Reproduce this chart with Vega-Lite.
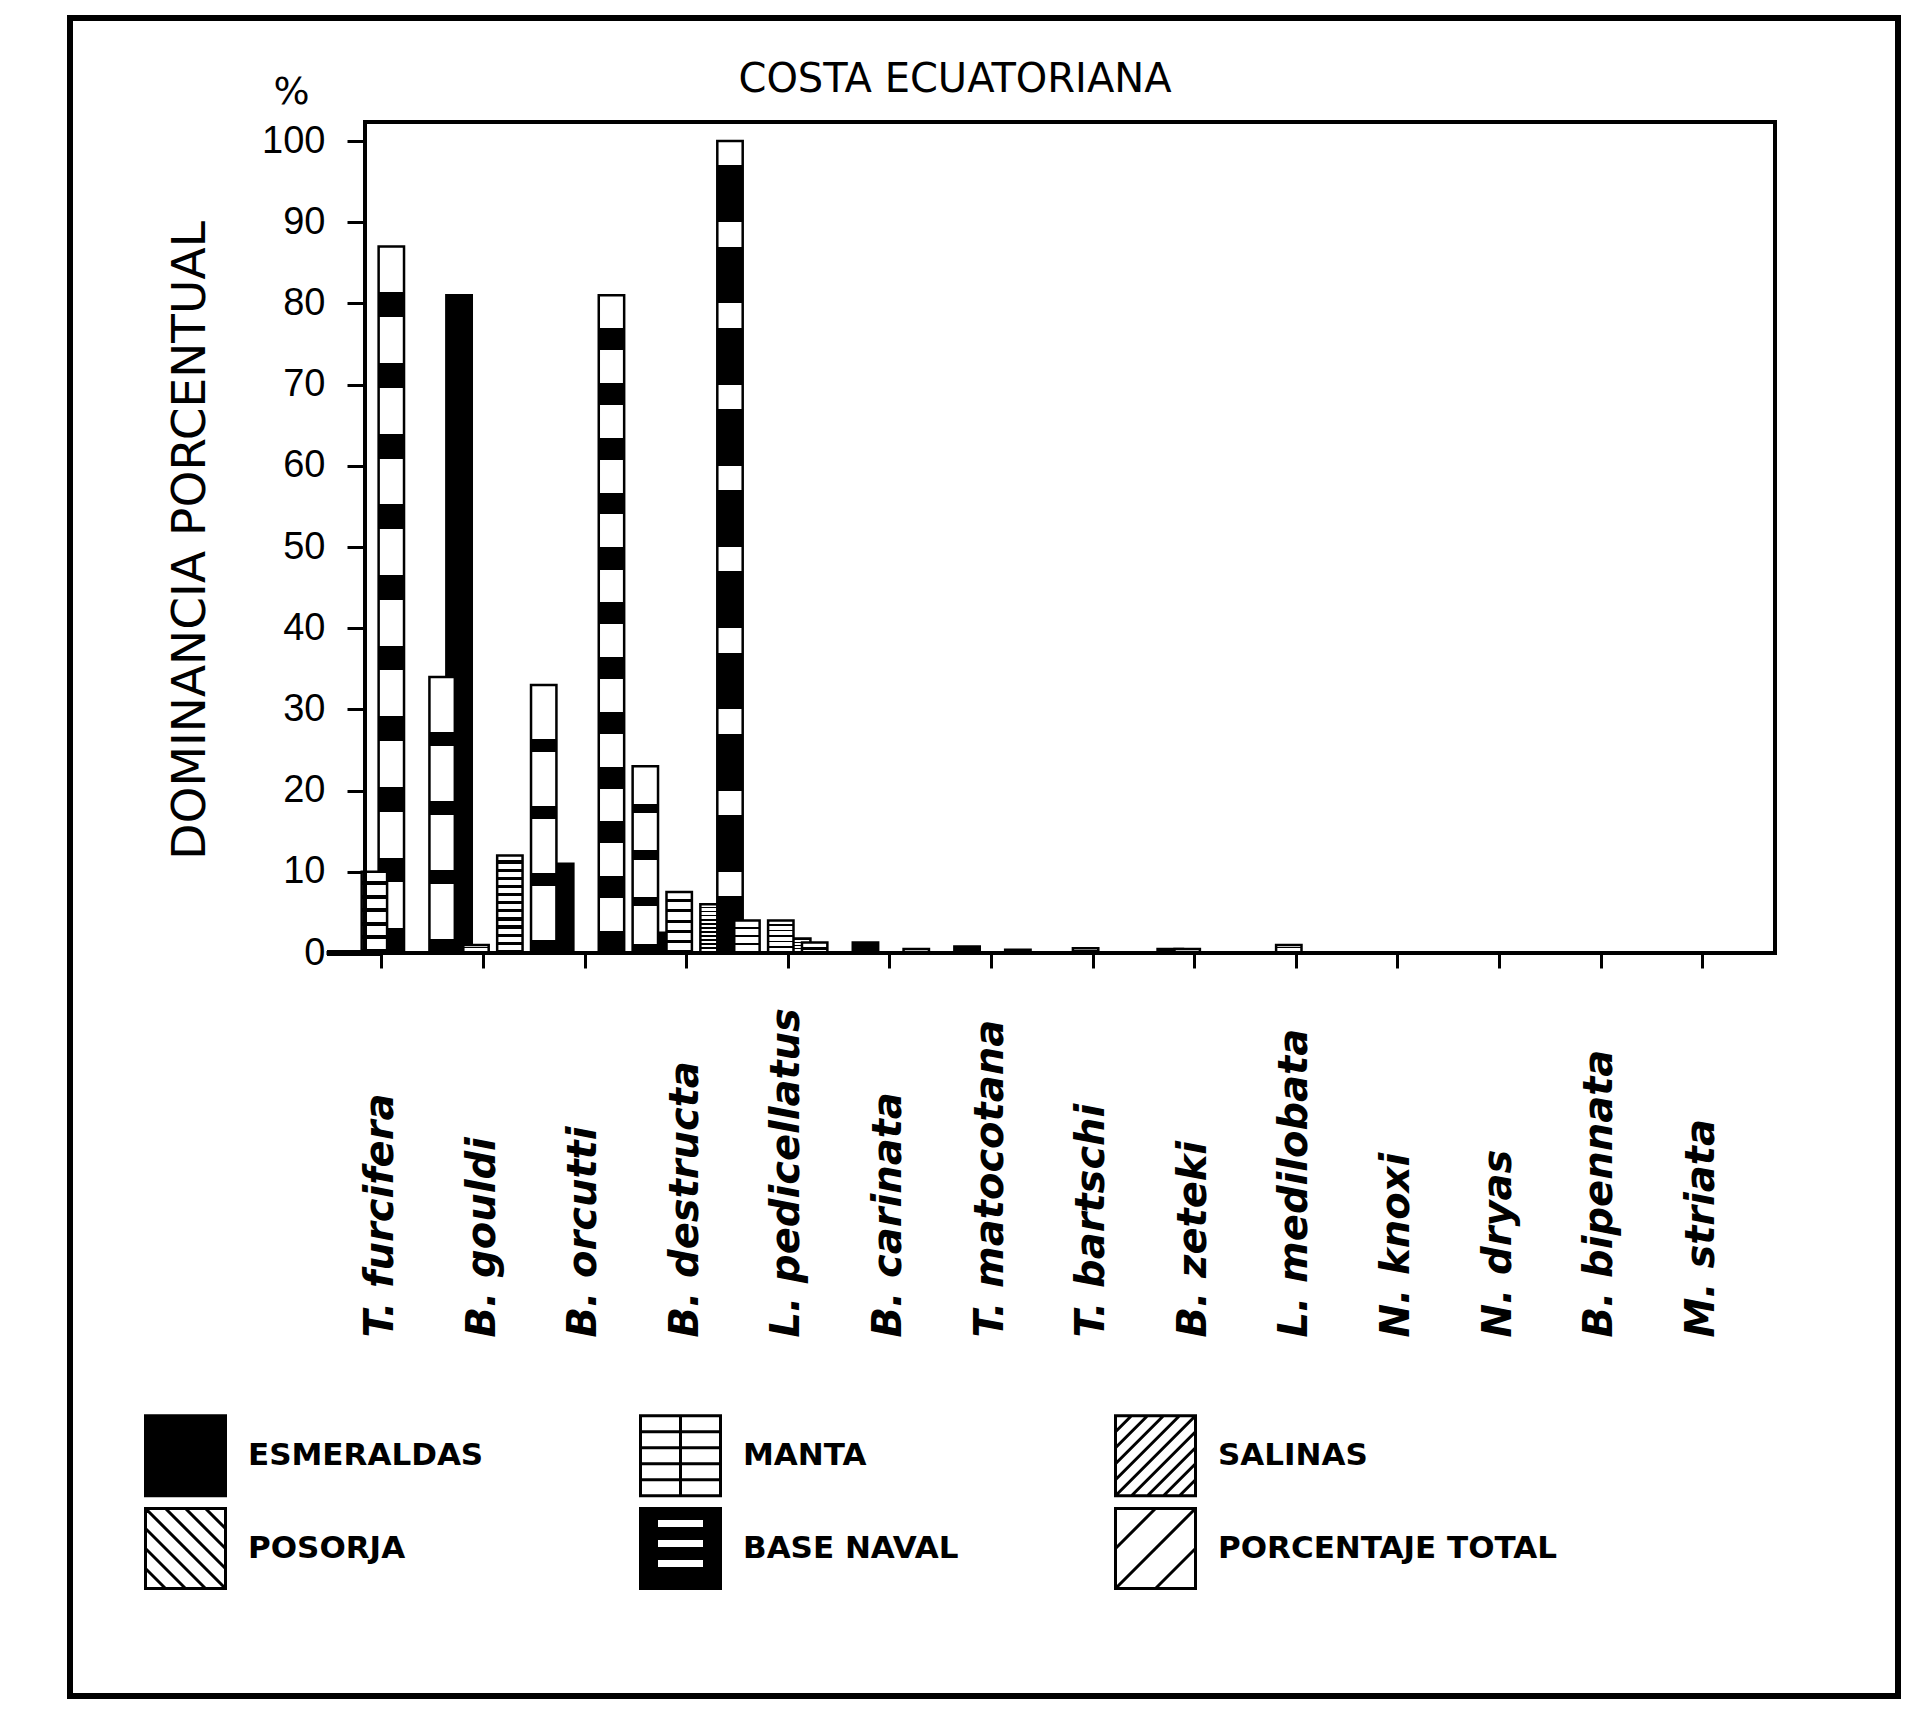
{
  "$schema": "https://vega.github.io/schema/vega-lite/v6.json",
  "width": 1828,
  "height": 1678,
  "autosize": {"type": "none"},
  "padding": {"left": 70, "top": 18, "right": 22, "bottom": 16},
  "background": "white",
  "title": {"text": "COSTA ECUATORIANA", "frame": "group", "anchor": "middle", "dx": -29, "offset": -102, "baseline": "middle", "font": "DejaVu Sans", "fontSize": 40, "fontWeight": "normal", "color": "black"},
  "config": {"view": {"stroke": "black", "strokeWidth": 6}, "font": "DejaVu Sans"},
  "data": {"values": [
    {"species": "T. furcifera", "series": "POSORJA", "value": 10},
    {"species": "T. furcifera", "series": "MANTA", "value": 87},
    {"species": "T. furcifera", "series": "PORCENTAJE TOTAL", "value": 34},
    {"species": "B. gouldi", "series": "ESMERALDAS", "value": 81},
    {"species": "B. gouldi", "series": "POSORJA", "value": 1},
    {"species": "B. gouldi", "series": "SALINAS", "value": 12},
    {"species": "B. gouldi", "series": "PORCENTAJE TOTAL", "value": 33},
    {"species": "B. orcutti", "series": "ESMERALDAS", "value": 11},
    {"species": "B. orcutti", "series": "SALINAS", "value": 81},
    {"species": "B. orcutti", "series": "PORCENTAJE TOTAL", "value": 23},
    {"species": "B. destructa", "series": "ESMERALDAS", "value": 2.5},
    {"species": "B. destructa", "series": "POSORJA", "value": 7.5},
    {"species": "B. destructa", "series": "SALINAS", "value": 6},
    {"species": "B. destructa", "series": "BASE NAVAL", "value": 100},
    {"species": "B. destructa", "series": "PORCENTAJE TOTAL", "value": 4},
    {"species": "L. pedicellatus", "series": "POSORJA", "value": 4},
    {"species": "L. pedicellatus", "series": "MANTA", "value": 1.8},
    {"species": "L. pedicellatus", "series": "SALINAS", "value": 1.3},
    {"species": "B. carinata", "series": "ESMERALDAS", "value": 1.3},
    {"species": "B. carinata", "series": "SALINAS", "value": 0.5},
    {"species": "T. matocotana", "series": "ESMERALDAS", "value": 0.8},
    {"species": "T. matocotana", "series": "SALINAS", "value": 0.4},
    {"species": "T. bartschi", "series": "POSORJA", "value": 0.6},
    {"species": "B. zeteki", "series": "ESMERALDAS", "value": 0.5},
    {"species": "B. zeteki", "series": "POSORJA", "value": 0.5},
    {"species": "L. medilobata", "series": "POSORJA", "value": 1}
  ]},
  "layer": [
    {
      "encoding": {
        "x": {
          "field": "species", "type": "nominal",
          "scale": {"domain": ["pad1", "pad2", "T. furcifera", "B. gouldi", "B. orcutti", "B. destructa", "L. pedicellatus", "B. carinata", "T. matocotana", "T. bartschi", "B. zeteki", "L. medilobata", "N. knoxi", "N. dryas", "B. bipennata", "M. striata", "pad3"], "paddingInner": 0, "paddingOuter": 0.496, "align": 0.962},
          "axis": {"title": null, "values": ["T. furcifera", "B. gouldi", "B. orcutti", "B. destructa", "L. pedicellatus", "B. carinata", "T. matocotana", "T. bartschi", "B. zeteki", "L. medilobata", "N. knoxi", "N. dryas", "B. bipennata", "M. striata"], "offset": -743, "domain": false, "bandPosition": 0.115, "ticks": true, "tickSize": 15, "tickWidth": 3, "tickColor": "black", "labelAngle": -90, "labelAlign": "left", "labelBaseline": "middle", "labelPadding": 369, "labelOffset": -40, "labelFont": "DejaVu Sans", "labelFontStyle": "italic", "labelFontWeight": "bold", "labelFontSize": 40, "labelColor": "black", "labelOverlap": false, "labelBound": false, "labelFlush": false, "labelLimit": 0}
        },
        "xOffset": {"field": "series", "type": "nominal", "scale": {"domain": ["ESMERALDAS", "POSORJA", "MANTA", "SALINAS", "BASE NAVAL", "PORCENTAJE TOTAL"], "paddingInner": 0, "paddingOuter": 0}},
        "y": {
          "field": "value", "type": "quantitative",
          "scale": {"domain": [-91.5, 115.15], "nice": false},
          "axis": {"orient": "left", "offset": -295, "domain": false, "grid": false, "values": [0, 10, 20, 30, 40, 50, 60, 70, 80, 90, 100], "tickSize": 18, "tickWidth": 3, "tickColor": "black", "labelPadding": 22, "labelFont": "Liberation Sans", "labelFontSize": 38, "labelColor": "black", "labelBaseline": "middle", "labelOverlap": false, "title": "DOMINANCIA PORCENTUAL", "titleFont": "DejaVu Sans", "titleFontSize": 47, "titleFontWeight": "normal", "titleColor": "black", "titleAngle": -90, "titleX": -175, "titleY": 522, "titleAlign": "center", "titleBaseline": "middle"}
        }
      },
      "layer": [
        {
          "transform": [{"filter": "datum.series === 'ESMERALDAS'"}],
          "mark": {"type": "bar", "width": {"band": 1.5}, "fill": "black", "stroke": "black", "strokeWidth": 2.5},
          "encoding": {"y2": {"datum": 0}}
        },
        {
          "transform": [{"filter": "datum.series === 'MANTA'"}],
          "mark": {"type": "bar", "width": {"band": 1.5}, "stroke": "black", "strokeWidth": 2.5, "fill": {"gradient": "linear", "x1": 0, "y1": 0, "x2": 0, "y2": 1, "stops": [
            {"offset": 0, "color": "white"}, {"offset": 0.065, "color": "white"}, {"offset": 0.065, "color": "black"}, {"offset": 0.1, "color": "black"},
            {"offset": 0.1, "color": "white"}, {"offset": 0.165, "color": "white"}, {"offset": 0.165, "color": "black"}, {"offset": 0.2, "color": "black"},
            {"offset": 0.2, "color": "white"}, {"offset": 0.265, "color": "white"}, {"offset": 0.265, "color": "black"}, {"offset": 0.3, "color": "black"},
            {"offset": 0.3, "color": "white"}, {"offset": 0.365, "color": "white"}, {"offset": 0.365, "color": "black"}, {"offset": 0.4, "color": "black"},
            {"offset": 0.4, "color": "white"}, {"offset": 0.465, "color": "white"}, {"offset": 0.465, "color": "black"}, {"offset": 0.5, "color": "black"},
            {"offset": 0.5, "color": "white"}, {"offset": 0.565, "color": "white"}, {"offset": 0.565, "color": "black"}, {"offset": 0.6, "color": "black"},
            {"offset": 0.6, "color": "white"}, {"offset": 0.665, "color": "white"}, {"offset": 0.665, "color": "black"}, {"offset": 0.7, "color": "black"},
            {"offset": 0.7, "color": "white"}, {"offset": 0.765, "color": "white"}, {"offset": 0.765, "color": "black"}, {"offset": 0.8, "color": "black"},
            {"offset": 0.8, "color": "white"}, {"offset": 0.865, "color": "white"}, {"offset": 0.865, "color": "black"}, {"offset": 0.9, "color": "black"},
            {"offset": 0.9, "color": "white"}, {"offset": 0.965, "color": "white"}, {"offset": 0.965, "color": "black"}, {"offset": 1, "color": "black"}
          ]}},
          "encoding": {"y2": {"datum": 0}}
        },
        {
          "transform": [{"filter": "datum.series === 'SALINAS'"}],
          "mark": {"type": "bar", "width": {"band": 1.5}, "stroke": "black", "strokeWidth": 2.5, "fill": {"gradient": "linear", "x1": 0, "y1": 0, "x2": 0, "y2": 1, "stops": [
            {"offset": 0, "color": "white"}, {"offset": 0.05, "color": "white"}, {"offset": 0.05, "color": "black"}, {"offset": 0.083, "color": "black"},
            {"offset": 0.083, "color": "white"}, {"offset": 0.133, "color": "white"}, {"offset": 0.133, "color": "black"}, {"offset": 0.167, "color": "black"},
            {"offset": 0.167, "color": "white"}, {"offset": 0.217, "color": "white"}, {"offset": 0.217, "color": "black"}, {"offset": 0.25, "color": "black"},
            {"offset": 0.25, "color": "white"}, {"offset": 0.3, "color": "white"}, {"offset": 0.3, "color": "black"}, {"offset": 0.333, "color": "black"},
            {"offset": 0.333, "color": "white"}, {"offset": 0.383, "color": "white"}, {"offset": 0.383, "color": "black"}, {"offset": 0.417, "color": "black"},
            {"offset": 0.417, "color": "white"}, {"offset": 0.467, "color": "white"}, {"offset": 0.467, "color": "black"}, {"offset": 0.5, "color": "black"},
            {"offset": 0.5, "color": "white"}, {"offset": 0.55, "color": "white"}, {"offset": 0.55, "color": "black"}, {"offset": 0.583, "color": "black"},
            {"offset": 0.583, "color": "white"}, {"offset": 0.633, "color": "white"}, {"offset": 0.633, "color": "black"}, {"offset": 0.667, "color": "black"},
            {"offset": 0.667, "color": "white"}, {"offset": 0.717, "color": "white"}, {"offset": 0.717, "color": "black"}, {"offset": 0.75, "color": "black"},
            {"offset": 0.75, "color": "white"}, {"offset": 0.8, "color": "white"}, {"offset": 0.8, "color": "black"}, {"offset": 0.833, "color": "black"},
            {"offset": 0.833, "color": "white"}, {"offset": 0.883, "color": "white"}, {"offset": 0.883, "color": "black"}, {"offset": 0.917, "color": "black"},
            {"offset": 0.917, "color": "white"}, {"offset": 0.967, "color": "white"}, {"offset": 0.967, "color": "black"}, {"offset": 1, "color": "black"}
          ]}},
          "encoding": {"y2": {"datum": 0}}
        },
        {
          "transform": [{"filter": "datum.series === 'POSORJA'"}],
          "mark": {"type": "bar", "width": {"band": 1.5}, "stroke": "black", "strokeWidth": 2.5, "fill": {"gradient": "linear", "x1": 0, "y1": 0, "x2": 0, "y2": 1, "stops": [
            {"offset": 0, "color": "white"}, {"offset": 0.117, "color": "white"}, {"offset": 0.117, "color": "black"}, {"offset": 0.167, "color": "black"},
            {"offset": 0.167, "color": "white"}, {"offset": 0.283, "color": "white"}, {"offset": 0.283, "color": "black"}, {"offset": 0.333, "color": "black"},
            {"offset": 0.333, "color": "white"}, {"offset": 0.45, "color": "white"}, {"offset": 0.45, "color": "black"}, {"offset": 0.5, "color": "black"},
            {"offset": 0.5, "color": "white"}, {"offset": 0.617, "color": "white"}, {"offset": 0.617, "color": "black"}, {"offset": 0.667, "color": "black"},
            {"offset": 0.667, "color": "white"}, {"offset": 0.783, "color": "white"}, {"offset": 0.783, "color": "black"}, {"offset": 0.833, "color": "black"},
            {"offset": 0.833, "color": "white"}, {"offset": 0.95, "color": "white"}, {"offset": 0.95, "color": "black"}, {"offset": 1, "color": "black"}
          ]}},
          "encoding": {"y2": {"datum": 0}}
        },
        {
          "transform": [{"filter": "datum.series === 'BASE NAVAL'"}],
          "mark": {"type": "bar", "width": {"band": 1.5}, "stroke": "black", "strokeWidth": 2.5, "fill": {"gradient": "linear", "x1": 0, "y1": 0, "x2": 0, "y2": 1, "stops": [
            {"offset": 0, "color": "white"}, {"offset": 0.03, "color": "white"}, {"offset": 0.03, "color": "black"}, {"offset": 0.1, "color": "black"},
            {"offset": 0.1, "color": "white"}, {"offset": 0.13, "color": "white"}, {"offset": 0.13, "color": "black"}, {"offset": 0.2, "color": "black"},
            {"offset": 0.2, "color": "white"}, {"offset": 0.23, "color": "white"}, {"offset": 0.23, "color": "black"}, {"offset": 0.3, "color": "black"},
            {"offset": 0.3, "color": "white"}, {"offset": 0.33, "color": "white"}, {"offset": 0.33, "color": "black"}, {"offset": 0.4, "color": "black"},
            {"offset": 0.4, "color": "white"}, {"offset": 0.43, "color": "white"}, {"offset": 0.43, "color": "black"}, {"offset": 0.5, "color": "black"},
            {"offset": 0.5, "color": "white"}, {"offset": 0.53, "color": "white"}, {"offset": 0.53, "color": "black"}, {"offset": 0.6, "color": "black"},
            {"offset": 0.6, "color": "white"}, {"offset": 0.63, "color": "white"}, {"offset": 0.63, "color": "black"}, {"offset": 0.7, "color": "black"},
            {"offset": 0.7, "color": "white"}, {"offset": 0.73, "color": "white"}, {"offset": 0.73, "color": "black"}, {"offset": 0.8, "color": "black"},
            {"offset": 0.8, "color": "white"}, {"offset": 0.83, "color": "white"}, {"offset": 0.83, "color": "black"}, {"offset": 0.9, "color": "black"},
            {"offset": 0.9, "color": "white"}, {"offset": 0.93, "color": "white"}, {"offset": 0.93, "color": "black"}, {"offset": 1, "color": "black"}
          ]}},
          "encoding": {"y2": {"datum": 0}}
        },
        {
          "transform": [{"filter": "datum.series === 'PORCENTAJE TOTAL'"}],
          "mark": {"type": "bar", "width": {"band": 1.5}, "stroke": "black", "strokeWidth": 2.5, "fill": {"gradient": "linear", "x1": 0, "y1": 0, "x2": 0, "y2": 1, "stops": [
            {"offset": 0, "color": "white"}, {"offset": 0.2, "color": "white"}, {"offset": 0.2, "color": "black"}, {"offset": 0.25, "color": "black"},
            {"offset": 0.25, "color": "white"}, {"offset": 0.45, "color": "white"}, {"offset": 0.45, "color": "black"}, {"offset": 0.5, "color": "black"},
            {"offset": 0.5, "color": "white"}, {"offset": 0.7, "color": "white"}, {"offset": 0.7, "color": "black"}, {"offset": 0.75, "color": "black"},
            {"offset": 0.75, "color": "white"}, {"offset": 0.95, "color": "white"}, {"offset": 0.95, "color": "black"}, {"offset": 1, "color": "black"}
          ]}},
          "encoding": {"y2": {"datum": 0}}
        },
        {
          "mark": {"type": "point", "filled": true, "opacity": 0},
          "encoding": {
            "fill": {
              "field": "series", "type": "nominal",
              "scale": {"domain": ["ESMERALDAS", "POSORJA", "MANTA", "BASE NAVAL", "SALINAS", "PORCENTAJE TOTAL"], "range": ["black", "white", "white", "black", "white", "white"]},
              "legend": {"title": null, "orient": "none", "legendX": 74, "legendY": 1396, "columns": 3, "symbolSize": 6400, "symbolStrokeColor": "black", "symbolStrokeWidth": 3, "symbolOpacity": 1, "labelFont": "DejaVu Sans", "labelFontWeight": "bold", "labelFontSize": 31, "labelColor": "black", "labelOffset": 21, "columnPadding": 150, "rowPadding": 0, "gridAlign": "each", "padding": 0, "labelLimit": 0,
                "encode": {"symbols": {"update": {"stroke": {"value": "black"}, "strokeWidth": {"value": 3}, "opacity": {"value": 1}, "fillOpacity": {"value": 1}, "strokeOpacity": {"value": 1}}}}}
            },
            "shape": {
              "field": "series", "type": "nominal",
              "scale": {"domain": ["ESMERALDAS", "POSORJA", "MANTA", "BASE NAVAL", "SALINAS", "PORCENTAJE TOTAL"], "range": [
                "M-1,-1H1V1H-1Z",
                "M-1,-1H1V1H-1Z M-1,0.5L-0.5,1 M-1,0L0,1 M-1,-0.5L0.5,1 M-1,-1L1,1 M-0.5,-1L1,0.5 M0,-1L1,0 M0.5,-1L1,-0.5",
                "M-1,-1H1V1H-1Z M-1,-0.6H1 M-1,-0.2H1 M-1,0.2H1 M-1,0.6H1 M0,-1V1",
                "M-1,-1H1V1H-1Z M-0.6,-0.75V-0.5H0.6V-0.75Z M-0.6,-0.25V0H0.6V-0.25Z M-0.6,0.25V0.5H0.6V0.25Z",
                "M-1,-1H1V1H-1Z M-1,-0.6L-0.6,-1 M-1,-0.2L-0.2,-1 M-1,0.2L0.2,-1 M-1,0.6L0.6,-1 M-1,1L1,-1 M-0.6,1L1,-0.6 M-0.2,1L1,-0.2 M0.2,1L1,0.2 M0.6,1L1,0.6",
                "M-1,-1H1V1H-1Z M-1,0L0,-1 M-1,1L1,-1 M0,1L1,0"
              ]},
              "legend": {"title": null, "orient": "none", "legendX": 74, "legendY": 1396, "columns": 3, "symbolSize": 6400, "symbolStrokeColor": "black", "symbolStrokeWidth": 3, "symbolOpacity": 1, "labelFont": "DejaVu Sans", "labelFontWeight": "bold", "labelFontSize": 31, "labelColor": "black", "labelOffset": 21, "columnPadding": 150, "rowPadding": 0, "gridAlign": "each", "padding": 0, "labelLimit": 0,
                "encode": {"symbols": {"update": {"stroke": {"value": "black"}, "strokeWidth": {"value": 3}, "opacity": {"value": 1}, "fillOpacity": {"value": 1}, "strokeOpacity": {"value": 1}}}}}
            }
          }
        }
      ]
    },
    {
      "mark": {"type": "rule", "stroke": "black", "strokeWidth": 5},
      "encoding": {
        "x": {"datum": "pad2", "type": "nominal", "bandPosition": 0.575},
        "x2": {"datum": "T. furcifera", "bandPosition": 0.1},
        "y": {"datum": 0, "type": "quantitative", "axis": null}
      }
    },
    {
      "mark": {"type": "rect", "fill": null, "stroke": "black", "strokeWidth": 3.5},
      "encoding": {
        "x": {"datum": "pad2", "type": "nominal", "bandPosition": 0.949},
        "x2": {"datum": "M. striata", "bandPosition": 0.827},
        "y": {"datum": 0, "type": "quantitative", "axis": {"orient": "left", "offset": -295, "domain": false, "ticks": false, "labels": false, "grid": false, "title": "%", "titleAngle": 0, "titleX": -74, "titleY": 74, "titleAlign": "center", "titleBaseline": "middle", "titleFont": "DejaVu Sans", "titleFontSize": 38, "titleFontWeight": "normal", "titleColor": "black"}},
        "y2": {"datum": 102.3}
      }
    }
  ],
  "resolve": {"axis": {"y": "independent"}}
}
